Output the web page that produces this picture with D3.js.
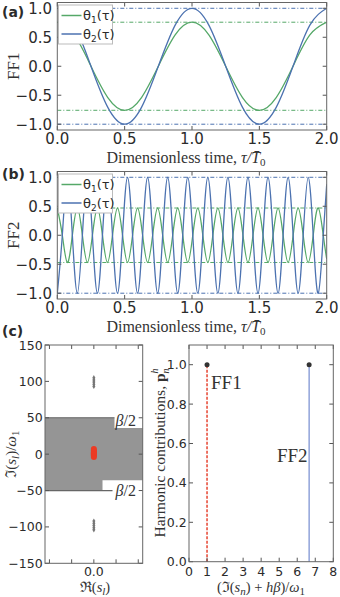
<!DOCTYPE html>
<html>
<head>
<meta charset="utf-8">
<script src="https://cdn.jsdelivr.net/npm/d3@7"></script>
<style>
  html, body { margin: 0; padding: 0; background: #fff; }
  svg { display: block; }
  .tk { font-family: "DejaVu Sans", sans-serif; fill: #2b2b2b; }
  .math { font-family: "Liberation Serif", "DejaVu Serif", serif; fill: #333; }
</style>
</head>
<body>
<div id="chart"></div>
<script>
const W = 340, H = 597;
const green = "#55a868", blue = "#4c72b0";

// (a) FF1: turning points
const tA = [0, 0.125, 0.25, 0.375, 0.5, 0.625, 0.75, 0.875, 1, 1.125, 1.25, 1.375, 1.5, 1.625, 1.75, 1.875, 2];
const ff1Theta1 = [0.76, 0.54, 0, -0.54, -0.76, -0.54, 0, 0.54, 0.76, 0.54, 0, -0.54, -0.76, -0.54, 0, 0.54, 0.76];
const ff1Theta2 = [1, 0.71, 0, -0.71, -1, -0.71, 0, 0.71, 1, 0.71, 0, -0.71, -1, -0.71, 0, 0.71, 1];
const ff1Amp = [0.76, 1.0];

// (b) FF2: extrema and zero crossings
const tB = [0, 0.0373, 0.0745, 0.1118, 0.149, 0.1863, 0.2235, 0.2608, 0.298, 0.3353, 0.3725, 0.4098,
  0.447, 0.4843, 0.5215, 0.5588, 0.596, 0.6333, 0.6705, 0.7078, 0.745, 0.7823, 0.8195, 0.8568,
  0.894, 0.9313, 0.9685, 1.0058, 1.043, 1.0803, 1.1175, 1.1548, 1.192, 1.2293, 1.2665, 1.3038,
  1.341, 1.3783, 1.4155, 1.4528, 1.49, 1.5273, 1.5645, 1.6018, 1.639, 1.6763, 1.7135, 1.7508,
  1.788, 1.8253, 1.8625, 1.8998, 1.937, 1.9743, 2.0];
const ff2Theta1 = [0.47, 0, -0.47, 0, 0.47, 0, -0.47, 0, 0.47, 0, -0.47, 0, 0.47, 0, -0.47, 0,
  0.47, 0, -0.47, 0, 0.47, 0, -0.47, 0, 0.47, 0, -0.47, 0, 0.47, 0, -0.47, 0, 0.47, 0, -0.47, 0,
  0.47, 0, -0.47, 0, 0.47, 0, -0.47, 0, 0.47, 0, -0.47, 0, 0.47, 0, -0.47, 0, 0.47, 0, -0.41];
const ff2Theta2 = [-1, 0, 1, 0, -1, 0, 1, 0, -1, 0, 1, 0, -1, 0, 1, 0, -1, 0, 1, 0, -1, 0, 1, 0,
  -1, 0, 1, 0, -1, 0, 1, 0, -1, 0, 1, 0, -1, 0, 1, 0, -1, 0, 1, 0, -1, 0, 1, 0, -1, 0, 1, 0, -1, 0, 0.88];
const ff2Amp = [0.47, 1.0];

// (c) left: poles
const stablePoles = [-4, -2, 0, 1, 2, 3, 5, 7];
const outerPoles = [93, 96, 99, 102, 105, -92, -95, -98, -101, -104];
const bandOuter = [-50, 50];
const bandInner = [-36, 36];
const bandStepX = [0.0039, 0.0093];

// (c) right: harmonic contributions
const harmFreq = [1, 6.66];
const harmAmp = [1.0, 1.0];
const harmName = ["FF1", "FF2"];

const svg = d3.select("#chart").append("svg").attr("width", W).attr("height", H);

function frame(g, x, y, xt, yt, fs, xfmt, yfmt, xlabY, ylabX) {
  const [x0, x1] = x.range(), [y0, y1] = y.range();
  const tl = 4;
  xt.forEach(v => {
    g.append("line").attr("x1", x(v)).attr("x2", x(v)).attr("y1", y0).attr("y2", y0 - tl).attr("stroke", "#555");
    g.append("line").attr("x1", x(v)).attr("x2", x(v)).attr("y1", y1).attr("y2", y1 + tl).attr("stroke", "#555");
    const s = xfmt(v);
    if (s !== "") g.append("text").attr("class", "tk").attr("x", x(v)).attr("y", xlabY)
      .attr("text-anchor", "middle").attr("font-size", fs).text(s);
  });
  yt.forEach(v => {
    g.append("line").attr("x1", x0).attr("x2", x0 + tl).attr("y1", y(v)).attr("y2", y(v)).attr("stroke", "#555");
    g.append("line").attr("x1", x1).attr("x2", x1 - tl).attr("y1", y(v)).attr("y2", y(v)).attr("stroke", "#555");
    g.append("text").attr("class", "tk").attr("x", ylabX).attr("y", y(v)).attr("dy", "0.36em")
      .attr("text-anchor", "end").attr("font-size", fs).text(yfmt(v));
  });
  g.append("rect").attr("x", x0).attr("y", y1).attr("width", x1 - x0).attr("height", y0 - y1)
    .attr("fill", "none").attr("stroke", "#666").attr("stroke-width", 1);
}

function timePanel(id, top, bottom, t, th1, th2, amp, name, tag, tagY) {
  const x = d3.scaleLinear().domain([0, 2]).range([57.3, 326.7]);
  const y = d3.scaleLinear().domain([-1.1, 1.1]).range([bottom, top]);
  const g = svg.append("g");
  g.append("clipPath").attr("id", id).append("rect")
    .attr("x", 57.3).attr("y", top).attr("width", 269.4).attr("height", bottom - top);
  const body = g.append("g").attr("clip-path", `url(#${id})`);

  [[amp[0], green], [amp[1], blue]].forEach(([a, c]) => {
    [a, -a].forEach(v => body.append("line").attr("x1", 57.3).attr("x2", 326.7)
      .attr("y1", y(v)).attr("y2", y(v)).attr("stroke", c).attr("stroke-width", 1)
      .attr("stroke-dasharray", "4,2,1,2"));
  });
  const line = vals => d3.line().curve(d3.curveNatural).x((d, i) => x(t[i])).y(d => y(d))(vals);
  body.append("path").attr("d", line(th1)).attr("fill", "none").attr("stroke", green).attr("stroke-width", 1.3);
  body.append("path").attr("d", line(th2)).attr("fill", "none").attr("stroke", blue).attr("stroke-width", 1.3);

  frame(g, x, y, [0, 0.5, 1, 1.5, 2], [-1, -0.5, 0, 0.5, 1], 15, d3.format(".1f"), d3.format(".1f"), bottom + 13.5, 52);

  // legend
  const lg = g.append("g").attr("transform", `translate(58.5,${top + 2.5})`);
  lg.append("rect").attr("width", 54).attr("height", 39).attr("fill", "#fff").attr("stroke", "#bbb");
  [["1", green, 10.5], ["2", blue, 29]].forEach(([k, c, ly]) => {
    lg.append("line").attr("x1", 3).attr("x2", 23).attr("y1", ly).attr("y2", ly).attr("stroke", c).attr("stroke-width", 1.5);
    const tx = lg.append("text").attr("class", "tk").attr("x", 24.5).attr("y", ly + 4.5).attr("font-size", 13);
    tx.append("tspan").text("θ");
    tx.append("tspan").attr("font-size", 9).attr("dy", 3).text(k);
    tx.append("tspan").attr("dy", -3).text("(τ)");
  });

  // axis labels
  g.append("text").attr("class", "math").attr("font-size", 17).attr("text-anchor", "middle")
    .attr("transform", `translate(19,${(top + bottom) / 2}) rotate(-90)`).text(name);
  const xl = g.append("text").attr("class", "math").attr("font-size", 16).attr("text-anchor", "middle")
    .attr("x", 186).attr("y", bottom + 33);
  xl.append("tspan").text("Dimensionless time, ");
  xl.append("tspan").attr("font-style", "italic").text("τ/T\u0304");
  xl.append("tspan").attr("font-size", 11).attr("dy", 3).text("0");

  svg.append("text").attr("class", "tk").attr("font-weight", "bold").attr("font-size", 14)
    .attr("x", 2).attr("y", tagY).text(tag);
}

timePanel("clipA", 2.5, 130, tA, ff1Theta1, ff1Theta2, ff1Amp, "FF1", "(a)", 17);
timePanel("clipB", 171.5, 299, tB, ff2Theta1, ff2Theta2, ff2Amp, "FF2", "(b)", 179);
svg.append("text").attr("class", "tk").attr("font-weight", "bold").attr("font-size", 14)
  .attr("x", 2).attr("y", 336).text("(c)");

// (c) left: pole map
{
  const x = d3.scaleLinear().domain([-0.022, 0.022]).range([45, 142.7]);
  const y = d3.scaleLinear().domain([-150, 150]).range([563.3, 345]);
  const g = svg.append("g");
  const [xl0, xr0] = x.domain();
  const poly = [[xl0, bandOuter[1]], [bandStepX[1], bandOuter[1]], [bandStepX[1], bandInner[1]],
    [xr0, bandInner[1]], [xr0, bandInner[0]], [bandStepX[0], bandInner[0]], [bandStepX[0], bandOuter[0]],
    [xl0, bandOuter[0]]];
  g.append("path").attr("d", d3.line().x(d => x(d[0])).y(d => y(d[1]))(poly) + "Z")
    .attr("fill", "#959595");
  g.append("line").attr("x1", x(xl0)).attr("x2", x(bandStepX[1])).attr("y1", y(bandOuter[1])).attr("y2", y(bandOuter[1]))
    .attr("stroke", "#666").attr("stroke-width", 1.2);
  g.append("line").attr("x1", x(xl0)).attr("x2", x(bandStepX[0]) + 10).attr("y1", y(bandOuter[0])).attr("y2", y(bandOuter[0]))
    .attr("stroke", "#666").attr("stroke-width", 1.2);

  g.selectAll(".op").data(outerPoles).join("path").attr("class", "op")
    .attr("d", d3.symbol(d3.symbolDiamond, 8))
    .attr("transform", d => `translate(${x(0)},${y(d)})`).attr("fill", "#777");
  g.selectAll(".sp").data(stablePoles).join("circle").attr("class", "sp")
    .attr("cx", x(0)).attr("cy", d => y(d)).attr("r", 3).attr("fill", "#ec3b24");

  frame(g, x, y, [-0.02, -0.01, 0, 0.01, 0.02], [-150, -100, -50, 0, 50, 100, 150], 12.5,
    v => v === 0 ? "0.0" : "", d3.format("d"), 576, 42.7);

  [[bandOuter[1], 425.7], [bandOuter[0], 495.5]].forEach(([v, by]) => {
    const t = g.append("text").attr("class", "math").attr("font-size", 16).attr("x", 115.5).attr("y", by);
    t.append("tspan").attr("font-style", "italic").text("β");
    t.append("tspan").text("/2");
  });

  const yl = g.append("text").attr("class", "math").attr("font-size", 15).attr("text-anchor", "middle")
    .attr("transform", `translate(16,${y(0)}) rotate(-90)`);
  yl.append("tspan").text("ℑ(");
  yl.append("tspan").attr("font-style", "italic").text("s");
  yl.append("tspan").attr("font-style", "italic").attr("font-size", 11).attr("dy", 3).text("l");
  yl.append("tspan").attr("dy", -3).text(")/");
  yl.append("tspan").attr("font-style", "italic").text("ω");
  yl.append("tspan").attr("font-size", 11).attr("dy", 3).text("1");

  const xlab = g.append("text").attr("class", "math").attr("font-size", 14.5).attr("text-anchor", "middle")
    .attr("x", 95).attr("y", 592);
  xlab.append("tspan").text("ℜ(");
  xlab.append("tspan").attr("font-style", "italic").text("s");
  xlab.append("tspan").attr("font-style", "italic").attr("font-size", 11).attr("dy", 3).text("l");
  xlab.append("tspan").attr("dy", -3).text(")");
}

// (c) right: harmonic contributions
{
  const x = d3.scaleLinear().domain([0, 8]).range([189, 333.3]);
  const y = d3.scaleLinear().domain([0, 1.1]).range([561.7, 345]);
  const g = svg.append("g");
  const styles = [{c: "#e8503e", dash: "3,1.5", w: 1.6}, {c: "#7f95d4", dash: null, w: 1.3}];
  harmFreq.forEach((f, i) => {
    g.append("line").attr("x1", x(f)).attr("x2", x(f)).attr("y1", y(0)).attr("y2", y(harmAmp[i]))
      .attr("stroke", styles[i].c).attr("stroke-width", styles[i].w).attr("stroke-dasharray", styles[i].dash);
    g.append("circle").attr("cx", x(f)).attr("cy", y(harmAmp[i])).attr("r", 2.5).attr("fill", "#333");
  });
  g.append("text").attr("class", "math").attr("font-size", 19).attr("x", x(harmFreq[0]) + 4).attr("y", 389).text(harmName[0]);
  g.append("text").attr("class", "math").attr("font-size", 19).attr("text-anchor", "end")
    .attr("x", x(harmFreq[1]) - 1.5).attr("y", 462).text(harmName[1]);

  frame(g, x, y, d3.range(0, 9), [0, 0.2, 0.4, 0.6, 0.8, 1.0], 12.5, d3.format("d"), d3.format(".1f"), 576, 186.7);

  const yl = g.append("text").attr("class", "math").attr("font-size", 15.5).attr("text-anchor", "middle")
    .attr("transform", `translate(165,453) rotate(-90)`);
  yl.append("tspan").text("Harmonic contributions, ");
  yl.append("tspan").attr("font-weight", "bold").text("p");
  yl.append("tspan").attr("font-style", "italic").attr("font-size", 10).attr("dy", -7).text("h");
  yl.append("tspan").attr("font-style", "italic").attr("font-size", 10).attr("dx", -5).attr("dy", 11).text("n");

  const xlab = g.append("text").attr("class", "math").attr("font-size", 14.5).attr("text-anchor", "middle")
    .attr("x", 261).attr("y", 592);
  xlab.append("tspan").text("(ℑ(");
  xlab.append("tspan").attr("font-style", "italic").text("s");
  xlab.append("tspan").attr("font-style", "italic").attr("font-size", 11).attr("dy", 3).text("n");
  xlab.append("tspan").attr("dy", -3).text(") + ");
  xlab.append("tspan").attr("font-style", "italic").text("hβ");
  xlab.append("tspan").text(")/");
  xlab.append("tspan").attr("font-style", "italic").text("ω");
  xlab.append("tspan").attr("font-size", 11).attr("dy", 3).text("1");
}
</script>
</body>
</html>
